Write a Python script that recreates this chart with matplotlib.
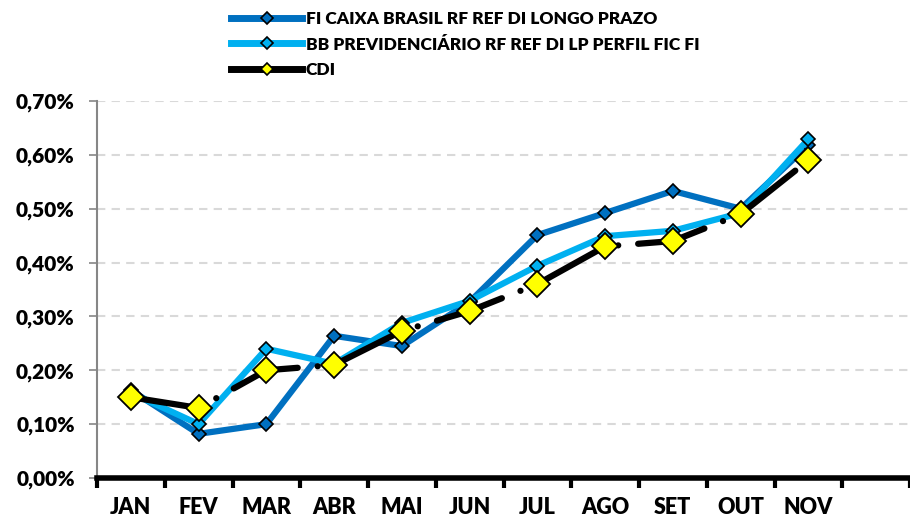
import matplotlib.pyplot as plt
from matplotlib.lines import Line2D
from matplotlib.ticker import FuncFormatter, FixedLocator

plt.rcParams['font.family'] = ['Lato', 'DejaVu Sans']
plt.rcParams['font.weight'] = 'heavy'

meses = ['JAN', 'FEV', 'MAR', 'ABR', 'MAI', 'JUN', 'JUL', 'AGO', 'SET', 'OUT', 'NOV']
caixa = [0.163, 0.082, 0.100, 0.264, 0.245, 0.327, 0.451, 0.492, 0.533, 0.500, 0.618]
bb = [0.158, 0.100, 0.240, 0.212, 0.288, 0.329, 0.394, 0.449, 0.459, 0.492, 0.629]
cdi = [0.150, 0.130, 0.200, 0.210, 0.273, 0.310, 0.360, 0.430, 0.440, 0.490, 0.590]

nome_caixa = 'FI CAIXA BRASIL RF REF DI LONGO PRAZO'
nome_bb = 'BB PREVIDENCIÁRIO RF REF DI LP PERFIL FIC FI'
nome_cdi = 'CDI'

azul = '#0070C0'
azul_claro = '#00B0F0'
amarelo = '#FFFF00'

fig = plt.figure(figsize=(9.1, 5.22), dpi=100)
ax = fig.add_axes([97/910, 1-478/522, 1-97/910, 377/522])

x = list(range(len(meses)))
ax.plot(x, caixa, color=azul, lw=4.5, marker='D', ms=7, mfc=azul, mec='black', mew=1.2, zorder=3)
ax.plot(x, bb, color=azul_claro, lw=4.5, marker='D', ms=7, mfc=azul_claro, mec='black', mew=1.2, zorder=4)
ax.plot(x, cdi, color='black', lw=4.5, ls=(0, (11, 3.2, 0.01, 3.2)), dash_capstyle='round',
        marker='D', ms=13, mfc=amarelo, mec='black', mew=1.3, zorder=5)

ax.set_xlim(-0.5, 11.5)
ax.set_ylim(0, 0.70)
ax.set_yticks([i/100 for i in range(0, 71, 10)])
ax.yaxis.set_major_formatter(FuncFormatter(lambda v, p: ('%.2f%%' % v).replace('.', ',')))
ax.set_xticks(x)
ax.set_xticklabels(meses)
ax.xaxis.set_minor_locator(FixedLocator([i - 0.5 for i in range(13)]))
ax.tick_params(axis='x', which='major', length=0, pad=14, labelsize=15.5)
ax.tick_params(axis='x', which='minor', length=7, width=3, color='black', direction='out')
ax.tick_params(axis='y', length=6, width=1.2, color='#868686', labelsize=15, pad=10)

ax.grid(axis='y', color='#D9D9D9', ls=(0, (4, 3)), lw=1.5)
ax.set_axisbelow(True)
for s in ['top', 'right']:
    ax.spines[s].set_visible(False)
ax.spines['left'].set_color('#868686')
ax.spines['left'].set_linewidth(1.5)
ax.spines['bottom'].set_color('black')
ax.spines['bottom'].set_linewidth(4)
ax.spines['bottom'].set_zorder(6)

handles = [
    Line2D([], [], color=azul, lw=5, marker='D', ms=6, mfc=azul, mec='black', mew=1.2),
    Line2D([], [], color=azul_claro, lw=5, marker='D', ms=6, mfc=azul_claro, mec='black', mew=1.2),
    Line2D([], [], color='black', lw=5, marker='D', ms=6, mfc=amarelo, mec='black', mew=1.2),
]
fig.legend(handles, [nome_caixa, nome_bb, nome_cdi], loc='upper left',
           bbox_to_anchor=(231/910, 1-11/522), frameon=False, borderpad=0, borderaxespad=0,
           handlelength=4.1, handletextpad=0.2, labelspacing=0.55, fontsize=12.5)

fig.savefig('out.png', dpi=100)
